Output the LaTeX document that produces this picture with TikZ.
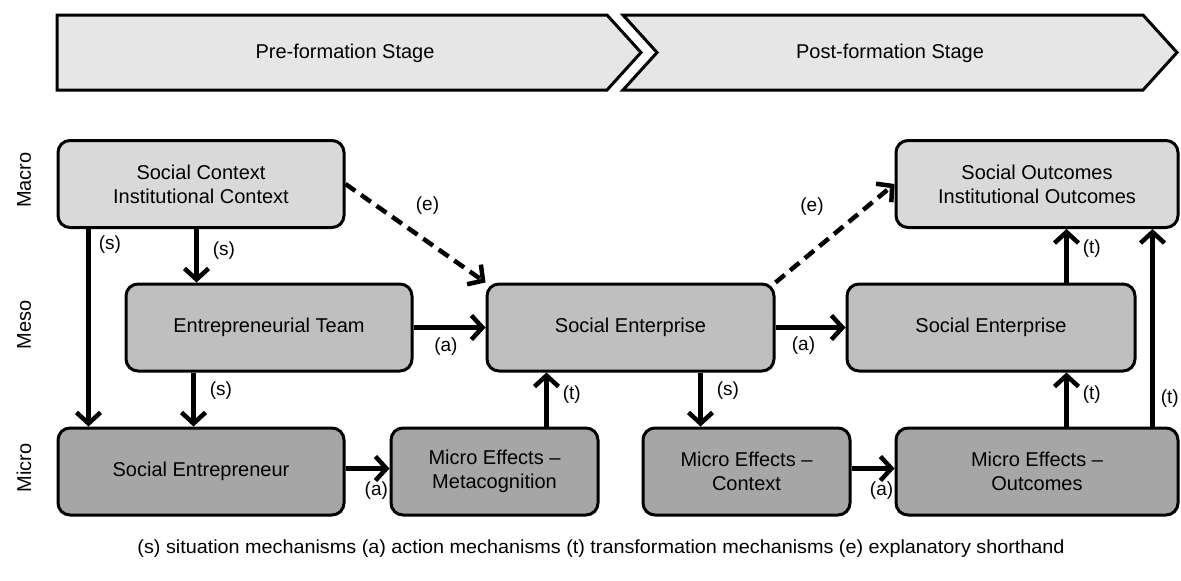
\documentclass[tikz,border=0pt]{standalone}
\usepackage{fontspec}
\setmainfont{Liberation Sans}
\usetikzlibrary{arrows.meta,calc}
\definecolor{bannerfill}{HTML}{E6E6E6}
\definecolor{macrofill}{HTML}{D9D9D9}
\definecolor{mesofill}{HTML}{BFBFBF}
\definecolor{microfill}{HTML}{A6A6A6}

\begin{document}
\begin{tikzpicture}[x=1pt,y=-1pt,
  box/.style={draw=black, line width=3pt, rounded corners=12pt, align=center,
    inner sep=0pt, minimum height=87pt, font=\fontsize{20}{24}\selectfont},
  macrobox/.style={box, fill=macrofill},
  mesobox/.style={box, fill=mesofill},
  microbox/.style={box, fill=microfill},
  banner/.style={draw=black, line width=3pt, fill=bannerfill, line join=miter},
  stagetext/.style={font=\fontsize{20}{24}\selectfont},
  leveltext/.style={font=\fontsize{20}{24}\selectfont, rotate=90},
  arr/.style={line width=4.5pt, -{Straight Barb[length=11pt,width=24pt]}},
  eline/.style={arr, dash pattern=on 12pt off 7pt},
  lbl/.style={font=\fontsize{19}{21}\selectfont, inner sep=2pt},
]
\useasboundingbox (0,0) rectangle (1181,581);

% stage banners
\draw[banner] (57,15) -- (607,15) -- (641,52.5) -- (607,90) -- (57,90) -- cycle;
\draw[banner] (623,15) -- (1143,15) -- (1177,52.5) -- (1143,90) -- (623,90) -- (657,52.5) -- cycle;
\node[stagetext] (pre) at (345,53) {Pre-formation Stage};
\node[stagetext] (post) at (890,53) {Post-formation Stage};

% level labels
\node[leveltext] (macro) at (24,180) {Macro};
\node[leveltext] (meso) at (24,325) {Meso};
\node[leveltext] (micro) at (24,468) {Micro};

% boxes
\node[macrobox, minimum width=286pt] (sc) at (201,184) {Social Context\\Institutional Context};
\node[mesobox, minimum width=286pt] (et) at (269,327.5) {Entrepreneurial Team};
\node[microbox, minimum width=286pt] (sen) at (201,471.5) {Social Entrepreneur};
\node[microbox, minimum width=207pt] (mm) at (494.5,471.5) {Micro Effects --\\Metacognition};
\node[mesobox, minimum width=287pt] (se1) at (630.5,327.5) {Social Enterprise};
\node[microbox, minimum width=207pt] (mc) at (746.5,471.5) {Micro Effects --\\Context};
\node[microbox, minimum width=282pt] (mo) at (1037,471.5) {Micro Effects --\\Outcomes};
\node[mesobox, minimum width=288pt] (se2) at (991,327.5) {Social Enterprise};
\node[macrobox, minimum width=282pt] (so) at (1037,184) {Social Outcomes\\Institutional Outcomes};

% situation mechanisms
\draw[arr] ([xshift=32pt]sc.south west) -- node[lbl, pos=0.08, right, xshift=6pt] {(s)} ([xshift=32pt]sen.north west);
\draw[arr] ([xshift=140pt]sc.south west) -- node[lbl, pos=0.4, right, xshift=12pt] {(s)} ([xshift=72pt]et.north west);
\draw[arr] ([xshift=69pt]et.south west) -- node[lbl, pos=0.33, right, xshift=12pt] {(s)} ([xshift=137pt]sen.north west);
\draw[arr] ([xshift=215pt]se1.south west) -- node[lbl, pos=0.33, right, xshift=12pt] {(s)} ([xshift=59pt]mc.north west);

% action mechanisms
\draw[arr] (et.east) -- node[lbl, pos=0.45, below, yshift=-6pt] {(a)} (se1.west);
\draw[arr] (se1.east) -- node[lbl, pos=0.4, below, yshift=-5pt] {(a)} (se2.west);
\draw[arr] ([yshift=3pt]sen.east) -- node[lbl, pos=0.7, below, yshift=-9pt] {(a)} ([yshift=3pt]mm.west);
\draw[arr] ([yshift=3pt]mc.east) -- node[lbl, pos=0.7, below, yshift=-9pt] {(a)} ([yshift=3pt]mo.west);

% transformation mechanisms
\draw[arr] ([xshift=157pt]mm.north west) -- node[lbl, pos=0.6, right, xshift=12pt] {(t)} ([xshift=61pt]se1.south west);
\draw[arr] ([xshift=172pt]mo.north west) -- node[lbl, pos=0.6, right, xshift=12pt] {(t)} ([xshift=221pt]se2.south west);
\draw[arr] ([xshift=221pt]se2.north west) -- node[lbl, pos=0.63, right, xshift=12pt] {(t)} ([xshift=172pt]so.south west);
\draw[arr] ([xshift=258pt]mo.north west) -- node[lbl, pos=0.14, right, xshift=4pt] {(t)} ([xshift=258pt]so.south west);

% explanatory shorthand
\draw[eline] (sc.east) -- node[lbl, pos=0.5, xshift=12pt, yshift=28pt] {(e)} (se1.north west);
\draw[eline] (se1.north east) -- node[lbl, pos=0.5, xshift=-23pt, yshift=27pt] {(e)} (so.west);

% legend
\node (legend) at (601,549) {\resizebox{927pt}{\height}{\fontsize{19}{21}\selectfont (s) situation mechanisms (a) action mechanisms (t) transformation mechanisms (e) explanatory shorthand}};
\end{tikzpicture}
\end{document}
